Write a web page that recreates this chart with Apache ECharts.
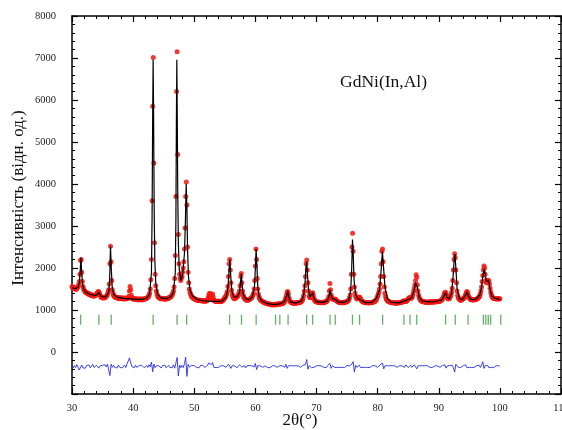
<!DOCTYPE html>
<html lang="uk">
<head>
    <meta charset="utf-8">
    <title>GdNi(In,Al)</title>
    <script src="https://cdn.jsdelivr.net/npm/echarts@6/dist/echarts.min.js"></script>
    <style>
        html, body { margin: 0; height: 100%; background: #fff; }
        #main { width: 562px; height: 430px; }
    </style>
</head>
<body>
    <div id="main"></div>
    <script>
        // спостережувані точки: 2θ від 30 з кроком 0.1
        var obsStart = 30, obsStep = 0.1;
        var obsValues = [
            1560, 1530, 1545, 1510, 1525, 1500, 1515, 1490, 1520, 1540,
            1560, 1600, 1680, 1850, 2180, 2200, 1900, 1680, 1560, 1500,
            1470, 1440, 1430, 1410, 1420, 1390, 1400, 1380, 1370, 1385,
            1360, 1350, 1365, 1340, 1355, 1330, 1345, 1335, 1350, 1360,
            1370, 1390, 1420, 1440, 1430, 1390, 1350, 1320, 1300, 1310,
            1290, 1305, 1280, 1300, 1295, 1310, 1320, 1340, 1370, 1420,
            1480, 1620, 2100, 2520, 2150, 1700, 1480, 1400, 1360, 1330,
            1320, 1300, 1310, 1290, 1300, 1280, 1295, 1270, 1285, 1290,
            1270, 1280, 1265, 1290, 1260, 1275, 1280, 1260, 1285, 1270,
            1265, 1280, 1290, 1330, 1450, 1560, 1480, 1350, 1290, 1270,
            1260, 1275, 1255, 1265, 1250, 1270, 1245, 1260, 1255, 1240,
            1250, 1265, 1245, 1255, 1260, 1240, 1255, 1250, 1265, 1270,
            1260, 1275, 1280, 1290, 1300, 1320, 1350, 1400, 1500, 1720,
            2200, 3600, 5850, 7010, 4500, 2600, 1850, 1580, 1450, 1380,
            1340, 1310, 1300, 1290, 1280, 1270, 1275, 1265, 1280, 1270,
            1260, 1270, 1255, 1265, 1275, 1260, 1280, 1270, 1285, 1290,
            1300, 1310, 1320, 1340, 1370, 1400, 1450, 1550, 1750, 2300,
            3700, 6200, 7150, 4700, 2800, 2100, 1850, 1750, 1700, 1760,
            1800, 1900, 2000, 2150, 2450, 2950, 3700, 4050, 3500, 2500,
            1900, 1650, 1500, 1420, 1380, 1340, 1320, 1300, 1290, 1280,
            1270, 1260, 1250, 1245, 1240, 1235, 1240, 1230, 1225, 1235,
            1230, 1220, 1225, 1215, 1220, 1210, 1225, 1215, 1210, 1220,
            1215, 1225, 1250, 1300, 1360, 1400, 1340, 1380, 1300, 1250,
            1380, 1310, 1240, 1220, 1210, 1215, 1205, 1210, 1200, 1215,
            1205, 1200, 1210, 1195, 1205, 1210, 1220, 1230, 1245, 1270,
            1290, 1310, 1340, 1380, 1440, 1560, 1800, 2100, 2200, 1950,
            1650, 1470, 1380, 1330, 1300, 1280, 1270, 1280, 1290, 1310,
            1320, 1330, 1350, 1390, 1450, 1580, 1800, 1870, 1650, 1450,
            1360, 1310, 1280, 1260, 1250, 1240, 1235, 1240, 1230, 1245,
            1250, 1260, 1270, 1280, 1300, 1320, 1350, 1400, 1500, 1700,
            2050, 2450, 2200, 1750, 1500, 1380, 1310, 1270, 1250, 1230,
            1220, 1210, 1200, 1190, 1180, 1175, 1170, 1165, 1160, 1155,
            1150, 1140, 1145, 1135, 1140, 1130, 1125, 1135, 1120, 1130,
            1125, 1130, 1120, 1135, 1125, 1140, 1130, 1145, 1135, 1150,
            1140, 1155, 1145, 1150, 1160, 1155, 1170, 1180, 1200, 1250,
            1300, 1360, 1420, 1440, 1380, 1290, 1230, 1200, 1185, 1175,
            1170, 1165, 1160, 1170, 1155, 1165, 1160, 1170, 1165, 1175,
            1170, 1180, 1175, 1185, 1190, 1200, 1215, 1240, 1280, 1350,
            1450, 1580, 1800, 2100, 2190, 1950, 1650, 1450, 1340, 1300,
            1290, 1300, 1340, 1400, 1410, 1340, 1270, 1230, 1210, 1200,
            1195, 1190, 1185, 1190, 1180, 1185, 1175, 1180, 1185, 1175,
            1180, 1185, 1175, 1190, 1185, 1195, 1200, 1210, 1230, 1260,
            1320, 1450, 1630, 1480, 1360, 1300, 1270, 1260, 1250, 1245,
            1250, 1260, 1240, 1220, 1205, 1195, 1190, 1185, 1180, 1175,
            1180, 1175, 1170, 1180, 1175, 1185, 1180, 1190, 1185, 1195,
            1200, 1210, 1225, 1250, 1290, 1360, 1500, 1850, 2500, 2830,
            2400, 1850, 1550, 1400, 1330, 1290, 1270, 1265, 1275, 1290,
            1310, 1300, 1270, 1240, 1220, 1205, 1195, 1190, 1185, 1180,
            1175, 1170, 1180, 1175, 1170, 1165, 1175, 1170, 1180, 1175,
            1180, 1185, 1190, 1185, 1195, 1200, 1210, 1225, 1250, 1290,
            1330, 1370, 1420, 1500, 1620, 1800, 2100, 2400, 2450, 2150,
            1800, 1550, 1400, 1320, 1270, 1240, 1225, 1210, 1200, 1195,
            1190, 1185, 1180, 1175, 1180, 1170, 1175, 1165, 1170, 1160,
            1165, 1170, 1160, 1175, 1165, 1170, 1180, 1175, 1185, 1180,
            1190, 1200, 1210, 1220, 1215, 1205, 1200, 1210, 1220, 1240,
            1260, 1280, 1300, 1290, 1275, 1280, 1300, 1330, 1380, 1450,
            1520, 1600, 1700, 1840, 1780, 1600, 1450, 1360, 1300, 1260,
            1240, 1225, 1215, 1205, 1200, 1195, 1190, 1195, 1185, 1190,
            1185, 1180, 1190, 1185, 1195, 1180, 1190, 1185, 1195, 1190,
            1195, 1185, 1190, 1200, 1195, 1190, 1200, 1195, 1205, 1200,
            1210, 1205, 1215, 1220, 1230, 1245, 1260, 1290, 1330, 1380,
            1410, 1420, 1390, 1330, 1290, 1270, 1265, 1270, 1290, 1320,
            1360, 1420, 1520, 1700, 1950, 2200, 2340, 2250, 1950, 1650,
            1450, 1350, 1300, 1270, 1250, 1240, 1235, 1240, 1250, 1260,
            1270, 1280, 1300, 1330, 1370, 1410, 1440, 1420, 1370, 1320,
            1290, 1270, 1255, 1250, 1245, 1240, 1245, 1240, 1250, 1245,
            1250, 1255, 1260, 1270, 1280, 1295, 1310, 1340, 1380, 1450,
            1550, 1680, 1820, 1950, 2050, 2000, 1850, 1700, 1650, 1680,
            1700, 1710, 1690, 1620, 1520, 1430, 1370, 1330, 1300, 1285,
            1280, 1270, 1275, 1265, 1270, 1260, 1270, 1265, 1260, 1270,
            1265
        ];

        // розрахований профіль: [2θ, I]
        var calcPoints = [
            [30.0, 1530], [30.5, 1510], [31.0, 1540], [31.2, 1650], [31.35, 1950], [31.45, 2250],
            [31.55, 2000], [31.7, 1650], [31.9, 1500], [32.3, 1420], [33.0, 1370], [33.8, 1345],
            [34.2, 1370], [34.35, 1420], [34.5, 1380], [34.8, 1320], [35.5, 1310], [36.0, 1420],
            [36.15, 1700], [36.3, 2520], [36.42, 2000], [36.6, 1500], [36.9, 1360], [37.5, 1300],
            [38.5, 1275], [39.5, 1265], [40.5, 1255], [41.5, 1255], [42.2, 1280], [42.7, 1380],
            [43.0, 1900], [43.1, 3200], [43.2, 5600], [43.27, 6960], [43.35, 5600], [43.45, 3300],
            [43.55, 2200], [43.7, 1650], [44.0, 1380], [44.5, 1290], [45.5, 1270], [46.2, 1320],
            [46.6, 1420], [46.9, 1900], [47.0, 3200], [47.08, 5500], [47.15, 6960], [47.22, 5600],
            [47.3, 3800], [47.4, 2600], [47.55, 1950], [47.8, 1700], [48.1, 1850], [48.4, 2350],
            [48.55, 3100], [48.68, 4000], [48.8, 3400], [48.9, 2500], [49.05, 1800], [49.3, 1480],
            [49.7, 1340], [50.5, 1250], [51.5, 1220], [52.5, 1210], [53.5, 1205], [54.5, 1210],
            [55.2, 1300], [55.5, 1500], [55.7, 1950], [55.82, 2200], [55.95, 1850], [56.15, 1450],
            [56.5, 1310], [57.0, 1310], [57.4, 1420], [57.6, 1700], [57.7, 1860], [57.82, 1600],
            [58.0, 1380], [58.4, 1270], [59.0, 1245], [59.5, 1310], [59.85, 1550], [60.0, 2000],
            [60.12, 2460], [60.25, 2050], [60.4, 1550], [60.6, 1320], [61.0, 1220], [62.0, 1150],
            [63.0, 1130], [64.0, 1145], [64.8, 1210], [65.1, 1340], [65.3, 1440], [65.45, 1330],
            [65.7, 1200], [66.5, 1165], [67.5, 1210], [67.9, 1350], [68.15, 1700], [68.3, 2050],
            [68.4, 2150], [68.5, 1900], [68.7, 1480], [68.9, 1310], [69.15, 1320], [69.37, 1410],
            [69.55, 1300], [69.9, 1200], [71.0, 1180], [71.7, 1210], [72.0, 1300], [72.2, 1480],
            [72.35, 1380], [72.6, 1270], [73.07, 1250], [73.5, 1195], [74.5, 1180], [75.3, 1240],
            [75.6, 1480], [75.75, 1950], [75.89, 2680], [76.0, 2350], [76.15, 1700], [76.4, 1380],
            [76.7, 1280], [77.0, 1300], [77.3, 1230], [78.0, 1175], [79.0, 1180], [79.8, 1280],
            [80.3, 1480], [80.55, 1900], [80.78, 2400], [80.95, 2050], [81.2, 1550], [81.6, 1270],
            [82.2, 1185], [83.5, 1170], [84.3, 1210], [85.0, 1250], [85.6, 1300], [86.0, 1480],
            [86.2, 1650], [86.33, 1690], [86.5, 1560], [86.8, 1300], [87.3, 1210], [89.0, 1190],
            [90.5, 1240], [90.9, 1350], [91.12, 1410], [91.35, 1300], [91.7, 1270], [92.1, 1400],
            [92.35, 1800], [92.55, 2250], [92.64, 2330], [92.78, 2050], [93.0, 1500], [93.4, 1270],
            [93.9, 1250], [94.4, 1360], [94.62, 1430], [94.85, 1330], [95.3, 1250], [96.0, 1250],
            [96.7, 1350], [97.0, 1530], [97.25, 1850], [97.45, 1970], [97.6, 1850], [97.8, 1680],
            [98.15, 1700], [98.4, 1500], [98.7, 1330], [99.2, 1275], [100.0, 1260]
        ];

        // різниця: 2θ від 30 з кроком 0.2
        var diffStart = 30, diffStep = 0.2;
        var diffValues = [
            -330, -380, -320, -370, -300, -270, -430, -360, -310, -380,
            -340, -385, -320, -365, -310, -375, -330, -295, -370, -335,
            -315, -270, -385, -330, -375, -320, -365, -305, -355, -290,
            -260, -560, -290, -365, -315, -370, -330, -380, -310, -365,
            -325, -380, -335, -310, -370, -290, -310, -140, -260, -345,
            -330, -375, -315, -365, -380, -325, -370, -315, -360, -375,
            -335, -320, -370, -305, -355, -240, -470, -290, -375, -325,
            -370, -330, -315, -380, -325, -365, -320, -375, -330, -315,
            -365, -325, -375, -305, -385, -260, -130, -570, -310, -375,
            -320, -370, -280, -120, -580, -290, -360, -375, -320, -365,
            -325, -315, -370, -330, -375, -325, -365, -320, -360, -370,
            -330, -310, -260, -230, -300, -250, -365, -320, -370, -330,
            -365, -375, -325, -370, -330, -315, -365, -380, -290, -260,
            -390, -325, -370, -330, -315, -375, -335, -305, -290, -360,
            -365, -325, -380, -330, -370, -320, -365, -330, -315, -355,
            -270, -420, -325, -370, -330, -320, -365, -375, -330, -365,
            -370, -330, -375, -335, -325, -370, -330, -320, -365, -330,
            -325, -370, -330, -315, -365, -295, -390, -330, -370, -325,
            -365, -330, -375, -325, -370, -330, -320, -365, -330, -315,
            -290, -300, -180, -410, -325, -315, -375, -330, -365, -370,
            -330, -365, -325, -370, -330, -320, -365, -330, -375, -325,
            -315, -270, -390, -325, -305, -370, -330, -365, -325, -370,
            -330, -365, -325, -370, -330, -320, -365, -330, -305, -285,
            -230, -480, -315, -365, -330, -315, -370, -330, -365, -325,
            -365, -330, -370, -325, -365, -330, -320, -365, -330, -325,
            -365, -325, -305, -285, -265, -400, -330, -365, -325, -370,
            -330, -365, -325, -370, -330, -320, -365, -330, -325, -365,
            -330, -315, -365, -305, -325, -370, -330, -315, -365, -325,
            -305, -285, -400, -330, -365, -325, -370, -330, -365, -325,
            -365, -330, -325, -370, -330, -365, -325, -330, -370, -330,
            -325, -365, -330, -320, -365, -305, -385, -330, -365, -325,
            -330, -315, -375, -480, -290, -330, -365, -325, -370, -330,
            -325, -365, -305, -375, -330, -365, -325, -370, -330, -365,
            -330, -325, -365, -315, -370, -305, -230, -390, -325, -285,
            -315, -375, -330, -365, -325, -370, -330, -325, -365, -330,
            -340
        ];

        // положення брегівських рефлексів
        var braggPositions = [
            31.41, 34.40, 36.42, 43.27, 47.19, 48.76, 55.78, 57.73, 60.13, 63.30,
            64.00, 65.35, 68.39, 69.37, 72.22, 73.07, 75.89, 77.04, 80.82, 84.30,
            85.30, 86.40, 91.12, 92.70, 94.80, 97.30, 97.70, 98.10, 98.50, 100.15
        ];
        var braggLevel = 770;

        var obsData = obsValues.map(function (v, i) {
            return [+(obsStart + i * obsStep).toFixed(2), v];
        });
        var diffData = diffValues.map(function (v, i) {
            return [+(diffStart + i * diffStep).toFixed(2), v];
        });
        var braggData = braggPositions.map(function (x) { return [x, braggLevel]; });

        var serif = '"Liberation Serif", "DejaVu Serif", serif';
        var chart = echarts.init(document.getElementById('main'));

        var xBase = {
            type: 'value', min: 30, max: 110, interval: 10,
            axisLine: { onZero: false, lineStyle: { color: '#000', width: 1.5 } },
            axisTick: { inside: true, length: 6, lineStyle: { color: '#000', width: 1.2 } },
            minorTick: { show: true, splitNumber: 5, length: 3, lineStyle: { color: '#000', width: 1 } },
            splitLine: { show: false }
        };
        var yBase = {
            type: 'value', min: -1000, max: 8000, interval: 1000,
            axisLine: { onZero: false, lineStyle: { color: '#000', width: 1.5 } },
            axisTick: { inside: true, length: 6, lineStyle: { color: '#000', width: 1.2 } },
            minorTick: { show: true, splitNumber: 5, length: 3, lineStyle: { color: '#000', width: 1 } },
            splitLine: { show: false }
        };

        var option = {
            backgroundColor: '#fff',
            animation: false,
            grid: { left: 72, right: 1, top: 16, bottom: 36, outerBoundsMode: 'none' },
            xAxis: [
                Object.assign({}, xBase, {
                    position: 'bottom',
                    axisLabel: { margin: 9, fontFamily: serif, fontSize: 10.5, color: '#222' }
                }),
                Object.assign({}, xBase, { position: 'top', axisLabel: { show: false } })
            ],
            yAxis: [
                Object.assign({}, yBase, {
                    position: 'left',
                    axisLabel: {
                        margin: 16, fontFamily: serif, fontSize: 10.5, color: '#222',
                        formatter: function (v) { return v < 0 ? '' : String(v); }
                    }
                }),
                Object.assign({}, yBase, { position: 'right', axisLabel: { show: false } })
            ],
            graphic: [
                {
                    type: 'text', left: 340, top: 73,
                    style: { text: 'GdNi(In,Al)', fontFamily: serif, fontSize: 17.5, fill: '#111' }
                },
                {
                    type: 'text', x: 300, y: 421,
                    style: {
                        text: '2θ(°)', fontFamily: serif, fontSize: 17, fill: '#111',
                        textAlign: 'center', textVerticalAlign: 'middle'
                    }
                },
                {
                    type: 'text', x: 19, y: 198, rotation: Math.PI / 2,
                    style: {
                        text: 'Інтенсивність (відн. од.)', fontFamily: serif, fontSize: 17, fill: '#111',
                        textAlign: 'center', textVerticalAlign: 'middle'
                    }
                }
            ],
            series: [
                {
                    name: 'obs', type: 'scatter', data: obsData,
                    symbol: 'circle', symbolSize: 5,
                    itemStyle: { color: '#f4150f', opacity: 0.85 },
                    z: 2
                },
                {
                    name: 'calc', type: 'line', data: calcPoints,
                    showSymbol: false, symbol: 'none',
                    lineStyle: { color: '#000', width: 1.2 },
                    z: 3
                },
                {
                    name: 'bragg', type: 'scatter', data: braggData,
                    symbol: 'rect', symbolSize: [1.3, 10],
                    itemStyle: { color: '#3f9f3f' },
                    z: 2
                },
                {
                    name: 'diff', type: 'line', data: diffData,
                    showSymbol: false, symbol: 'none',
                    lineStyle: { color: '#2a2ee0', width: 0.9 },
                    z: 2
                }
            ]
        };

        chart.setOption(option);
    </script>
</body>
</html>
